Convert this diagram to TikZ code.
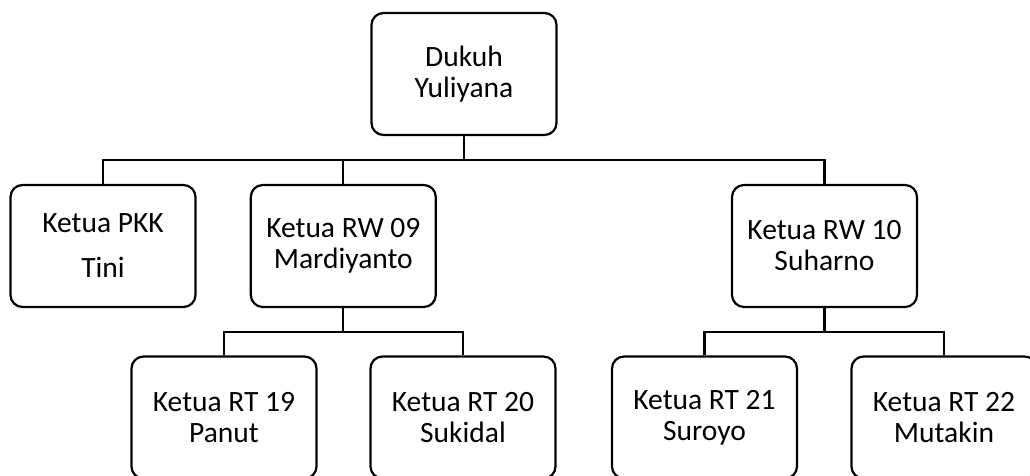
\documentclass[tikz,border=0pt]{standalone}
\usepackage{fontspec}
\setmainfont{Carlito}
\usetikzlibrary{positioning}

\tikzset{
  kotak/.style={draw, line width=2.2pt, rounded corners=12pt, minimum width=185pt,
    minimum height=122pt, align=center, inner sep=0pt,
    font=\fontsize{29.5}{31}\selectfont},
  garis/.style={line width=2.2pt}
}

\begin{document}
\begin{tikzpicture}[x=1pt,y=1pt]
\useasboundingbox (0,0) rectangle (1030,476);

%kotak dukuh
\node[kotak] (dukuh) at (464,402) {Dukuh\\Yuliyana};
%kotak tingkat kedua
\node[kotak] (pkk) at (103,230) {Ketua PKK\\[14pt]Tini};
\node[kotak] (rw09) at (343.3,230) {Ketua RW 09\\Mardiyanto};
\node[kotak] (rw10) at (824.5,230) {Ketua RW 10\\Suharno};
%kotak RT
\node[kotak] (rt19) at (224,58.5) {Ketua RT 19\\Panut};
\node[kotak] (rt20) at (463,58.5) {Ketua RT 20\\Sukidal};
\node[kotak] (rt21) at (704.5,58.5) {Ketua RT 21\\Suroyo};
\node[kotak] (rt22) at (944,58.5) {Ketua RT 22\\Mutakin};

%garis dari dukuh
\coordinate (busA) at (464,316);
\draw[garis] (dukuh.south) -- (busA);
\draw[garis] (pkk.north) |- (busA) -| (rw10.north);
\draw[garis] (rw09.north) -- (rw09.north |- busA);
%garis dari RW 09
\coordinate (busB) at (343.3,144.3);
\draw[garis] (rw09.south) -- (busB);
\draw[garis] (rt19.north) |- (busB) -| (rt20.north);
%garis dari RW 10
\coordinate (busC) at (824.5,144.3);
\draw[garis] (rw10.south) -- (busC);
\draw[garis] (rt21.north) |- (busC) -| (rt22.north);
\end{tikzpicture}
\end{document}
